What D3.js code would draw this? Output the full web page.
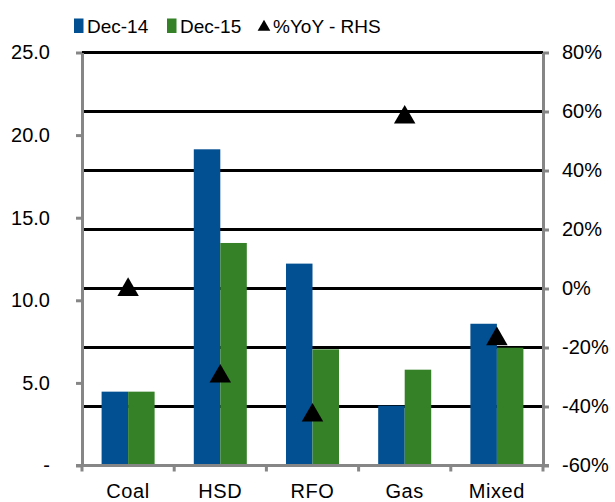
<!DOCTYPE html>
<html>
<head>
<meta charset="utf-8">
<script src="https://cdn.jsdelivr.net/npm/d3@7"></script>
<style>
  html, body { margin: 0; padding: 0; background: #fff; }
  svg text { font-family: "Liberation Sans", Arial, sans-serif; fill: #000; }
</style>
</head>
<body>
<svg id="chart" width="615" height="502"></svg>
<script>
// Fuel categories and generation values
const categories = ["Coal", "HSD", "RFO", "Gas", "Mixed"];
const seriesNames = ["Dec-14", "Dec-15"];
const dec14 = [4.47, 19.14, 12.22, 3.62, 8.58];
const dec15 = [4.47, 13.47, 7.03, 5.80, 7.13];
const yoyPct = [-0.4, -29.8, -43.0, 58.0, -17.1];   // right-hand scale, %
const leftTicks = [0, 5, 10, 15, 20, 25];
const rightTicks = [-60, -40, -20, 0, 20, 40, 60, 80];
const seriesColors = ["#024F91", "#358128"];

const svg = d3.select("#chart");
const plot = { left: 82, right: 543, top: 52.5, bottom: 465.5 };

const x0 = d3.scaleBand().domain(categories)
  .range([plot.left, plot.right]).paddingInner(0.425).paddingOuter(0.2125);
const xCat = d3.scaleBand().domain(categories).range([plot.left, plot.right]);
const x1 = d3.scaleBand().domain(seriesNames).range([0, x0.bandwidth()]);
const yL = d3.scaleLinear().domain([0, 25]).range([plot.bottom, plot.top]);
const yR = d3.scaleLinear().domain([-60, 80]).range([plot.bottom, plot.top]);

const gray = "#868686";

// horizontal gridlines follow the right-hand scale
svg.append("g").selectAll("line")
  .data(rightTicks.filter(t => t > -60))
  .join("line")
  .attr("x1", plot.left).attr("x2", plot.right)
  .attr("y1", d => yR(d)).attr("y2", d => yR(d))
  .attr("stroke", "#000").attr("stroke-width", 3);

// grouped bars
const rows = categories.map((c, i) => ({ cat: c, vals: [dec14[i], dec15[i]] }));
svg.append("g").selectAll("g")
  .data(rows)
  .join("g")
  .attr("transform", d => `translate(${x0(d.cat)},0)`)
  .selectAll("rect")
  .data(d => d.vals.map((v, j) => ({ key: seriesNames[j], v, j })))
  .join("rect")
  .attr("x", d => x1(d.key))
  .attr("width", x1.bandwidth())
  .attr("y", d => yL(d.v))
  .attr("height", d => yL(0) - yL(d.v))
  .attr("fill", d => seriesColors[d.j]);

// axes
function styleAxis(g) {
  g.select(".domain").attr("stroke", gray).attr("stroke-width", 3);
  g.selectAll(".tick line").attr("stroke", gray).attr("stroke-width", 3);
  g.selectAll(".tick text").attr("font-size", 20)
    .attr("font-family", "Liberation Sans, Arial, sans-serif").attr("fill", "#000");
}

svg.append("g")
  .attr("transform", `translate(${plot.left},0)`)
  .call(d3.axisLeft(yL).tickValues(leftTicks).tickSize(6).tickPadding(26).tickSizeOuter(0)
    .tickFormat(d => d === 0 ? "-" : d3.format(".1f")(d)))
  .call(styleAxis);

svg.append("g")
  .attr("transform", `translate(${plot.right},0)`)
  .call(d3.axisRight(yR).tickValues(rightTicks).tickSize(6).tickPadding(13).tickSizeOuter(0)
    .tickFormat(d => d + "%"))
  .call(styleAxis);

// category axis: ticks sit on band boundaries, labels at band centres
const xAxis = svg.append("g").attr("transform", `translate(0,${plot.bottom})`);
xAxis.append("line")
  .attr("x1", plot.left - 6).attr("x2", plot.right + 6)
  .attr("stroke", gray).attr("stroke-width", 3);
const bounds = categories.map(c => xCat(c)).concat([plot.right]);
xAxis.selectAll("line.tk").data(bounds).join("line").attr("class", "tk")
  .attr("x1", d => d).attr("x2", d => d).attr("y1", 0).attr("y2", 6)
  .attr("stroke", gray).attr("stroke-width", 3);
xAxis.selectAll("text").data(categories).join("text")
  .attr("x", d => x0(d) + x0.bandwidth() / 2)
  .attr("y", 32)
  .attr("text-anchor", "middle")
  .attr("font-size", 20)
  .attr("letter-spacing", 0.6)
  .text(d => d);

// YoY triangles on the right-hand scale
const tri = d3.symbol().type(d3.symbolTriangle).size(200);
svg.append("g").selectAll("path")
  .data(categories.map((c, i) => ({ cat: c, v: yoyPct[i] })))
  .join("path")
  .attr("d", tri)
  .attr("transform", d => `translate(${x0(d.cat) + x0.bandwidth() / 2},${yR(d.v)})`)
  .attr("fill", "#000");

// legend
const legend = svg.append("g").attr("font-size", 19);
const legendItems = [
  { label: "Dec-14", x: 74, kind: "rect", color: seriesColors[0] },
  { label: "Dec-15", x: 167, kind: "rect", color: seriesColors[1] },
  { label: "%YoY - RHS", x: 258, kind: "tri", color: "#000" }
];
legendItems.forEach(it => {
  if (it.kind === "rect") {
    legend.append("rect").attr("x", it.x).attr("y", 18.5).attr("width", 9.5).attr("height", 14.5)
      .attr("fill", it.color);
    legend.append("text").attr("x", it.x + 13).attr("y", 32.5).text(it.label);
  } else {
    legend.append("path").attr("d", d3.symbol().type(d3.symbolTriangle).size(70))
      .attr("transform", `translate(${it.x + 6},${27})`).attr("fill", it.color);
    legend.append("text").attr("x", it.x + 15).attr("y", 32.5).text(it.label);
  }
});
</script>
</body>
</html>
